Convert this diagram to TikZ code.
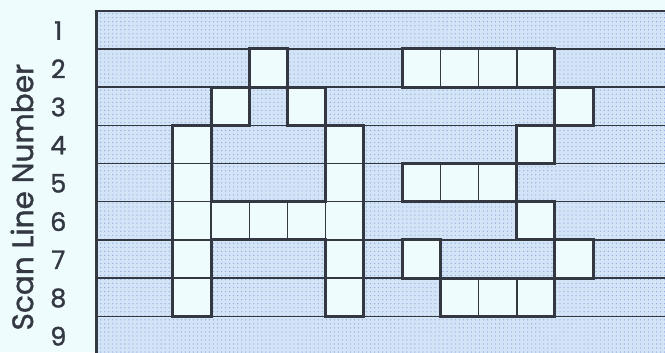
\documentclass[tikz,border=0pt]{standalone}
\usepackage{fontspec}
\setmainfont{Poppins}[FakeBold=1.2]
\usepackage{xcolor}
\usepackage{tikz}
\usetikzlibrary{patterns}
\definecolor{bgcyan}{RGB}{238,252,254}
\definecolor{stipple}{RGB}{212,228,247}
\definecolor{dotblue}{RGB}{145,170,222}
\definecolor{ink}{RGB}{52,56,66}
\tikzset{
  scanline/.style={ink, line width=1.1pt},
  litpixel/.style={fill=bgcyan, draw=ink, line width=1.1pt},
  pixeledge/.style={ink, line width=2.2pt},
  rownum/.style={ink, font=\fontsize{19}{19}\selectfont},
}

\begin{document}
\begin{tikzpicture}[x=1cm,y=1cm]
% 画布边界
\useasboundingbox (-2.526,0.065) rectangle (14.88,9.28);
\fill[bgcyan] (-2.526,0.065) rectangle (14.88,9.28);
\clip (-2.526,0.065) rectangle (14.88,9.28);
% 扫描区域
\fill[stipple] (0,0) rectangle (15,9);
\fill[pattern=dots, pattern color=dotblue] (0,0) rectangle (15,9);
% 扫描线
\foreach \y in {1,...,8} \draw[scanline] (0,\y) -- (15,\y);
\draw[ink, line width=1.6pt] (0,0) rectangle (15,9);
% 亮像素 (列/行)
\foreach \c/\r in {4/2,3/3,5/3,2/4,6/4,2/5,6/5,2/6,3/6,4/6,5/6,6/6,2/7,6/7,2/8,6/8,
                   8/2,9/2,10/2,11/2,12/3,11/4,8/5,9/5,10/5,11/6,8/7,12/7,9/8,10/8,11/8}
  \filldraw[litpixel] (\c,9-\r) rectangle ++(1,1);
% 字母 A 的轮廓
\draw[pixeledge] (4,7) rectangle (5,8);
\draw[pixeledge] (3,6) rectangle (4,7);
\draw[pixeledge] (5,6) rectangle (6,7);
\draw[pixeledge] (2,1)--(2,6)--(3,6)--(3,4)--(6,4)--(6,6)--(7,6)--(7,1)--(6,1)--(6,3)--(3,3)--(3,1)--cycle;
% 字母 S 的轮廓
\draw[pixeledge] (8,7) rectangle (12,8);
\draw[pixeledge] (12,6) rectangle (13,7);
\draw[pixeledge] (11,5) rectangle (12,6);
\draw[pixeledge] (8,4) rectangle (11,5);
\draw[pixeledge] (11,3) rectangle (12,4);
\draw[pixeledge] (8,2) rectangle (9,3);
\draw[pixeledge] (12,2) rectangle (13,3);
\draw[pixeledge] (9,1) rectangle (12,2);
% 行号与标题
\foreach \r in {1,...,9} \node[rownum, inner sep=0pt] (n\r) at (-1.0,9.48-\r) {\r};
\node[ink, rotate=90, anchor=base, inner sep=0pt, font=\fontsize{22}{22}\selectfont] (lbl) at (-1.66,4.12) {Scan Line Number};
\end{tikzpicture}
\end{document}
